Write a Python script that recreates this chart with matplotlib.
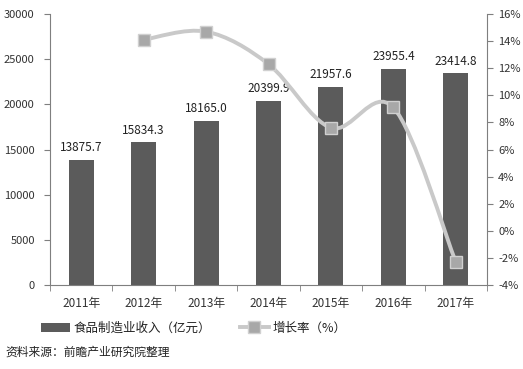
import numpy as np
import matplotlib
matplotlib.use("Agg")
import matplotlib.pyplot as plt
from matplotlib.path import Path
from matplotlib.patches import PathPatch, Patch
from matplotlib.lines import Line2D

plt.rcParams['font.family'] = ['Noto Sans CJK SC', 'DejaVu Sans']

years = ["2011年", "2012年", "2013年", "2014年", "2015年", "2016年", "2017年"]
income = [13875.7, 15834.3, 18165.0, 20399.9, 21957.6, 23955.4, 23414.8]
growth = [14.1, 14.7, 12.3, 7.6, 9.1, -2.3]  # 2012-2017, %

bar_color = "#5b5b5b"
line_color = "#c9c9c9"
marker_color = "#a8a8a8"
axis_color = "#7f7f7f"
text_color = "#333333"

fig = plt.figure(figsize=(5.23, 3.69), dpi=100)
ax = fig.add_axes([50 / 523, 1 - 285 / 369, 437 / 523, 271 / 369])

x = np.arange(len(years))
ax.bar(x, income, width=0.4, color=bar_color, zorder=2)
for xi, v in zip(x, income):
    ax.text(xi, v + 600, f"{v:.1f}", ha="center", va="bottom", fontsize=8.5, color="#222222")

ax.set_xlim(-0.5, len(years) - 0.5)
ax.set_ylim(0, 30000)
ax.set_yticks(np.arange(0, 30001, 5000))
ax.set_xticks(x)
ax.set_xticklabels(years)
ax.set_xticks(np.arange(-0.5, len(years), 1), minor=True)
ax.tick_params(axis="x", which="major", length=0, pad=9, labelsize=8.5, labelcolor=text_color)
ax.tick_params(axis="x", which="minor", length=4, color=axis_color, direction="out")
ax.tick_params(axis="y", length=4, color=axis_color, labelsize=8, labelcolor=text_color, pad=7)
for s in ["top", "right"]:
    ax.spines[s].set_visible(False)
for s in ["left", "bottom"]:
    ax.spines[s].set_color(axis_color)

ax2 = ax.twinx()
ax2.set_ylim(-4, 16)
ax2.set_yticks(np.arange(-4, 17, 2))
ax2.set_yticklabels([f"{t}%" for t in range(-4, 17, 2)])
ax2.tick_params(axis="y", length=4, color=axis_color, labelsize=8, labelcolor=text_color, pad=4)
for s in ["top", "left", "bottom"]:
    ax2.spines[s].set_visible(False)
ax2.spines["right"].set_color(axis_color)

# smoothed line (Catmull-Rom as cubic Bezier, like Excel's smooth line)
gx = x[1:]
pts = np.column_stack([gx, growth]).astype(float)
verts = [tuple(pts[0])]
codes = [Path.MOVETO]
n = len(pts)
for i in range(n - 1):
    p0 = pts[i - 1] if i > 0 else pts[i]
    p1 = pts[i]
    p2 = pts[i + 1]
    p3 = pts[i + 2] if i + 2 < n else pts[i + 1]
    c1 = p1 + (p2 - p0) / 6
    c2 = p2 - (p3 - p1) / 6
    verts += [tuple(c1), tuple(c2), tuple(p2)]
    codes += [Path.CURVE4] * 3
ax2.add_patch(PathPatch(Path(verts, codes), facecolor="none", edgecolor=line_color, lw=2.8, zorder=3))
ax2.plot(gx, growth, linestyle="none", marker="s", markersize=8,
         markerfacecolor=marker_color, markeredgecolor="#d0d0d0", markeredgewidth=1, zorder=4)

handles = [Patch(facecolor=bar_color, edgecolor="none"),
           Line2D([], [], color=line_color, lw=2.8, marker="s", markersize=8,
                  markerfacecolor=marker_color, markeredgecolor="#d0d0d0")]
fig.legend(handles, ["食品制造业收入（亿元）", "增长率（%）"], loc="center left",
           bbox_to_anchor=(30 / 523, 1 - 328 / 369), ncol=2, frameon=False,
           fontsize=9, handlelength=2.3, handletextpad=0.3, columnspacing=2.3,
           labelcolor="#222222")

fig.text(5 / 523, 1 - 352 / 369, "资料来源：前瞻产业研究院整理", fontsize=8.5,
         style="italic", color="#222222", va="center")

fig.savefig("out.png", dpi=100)
